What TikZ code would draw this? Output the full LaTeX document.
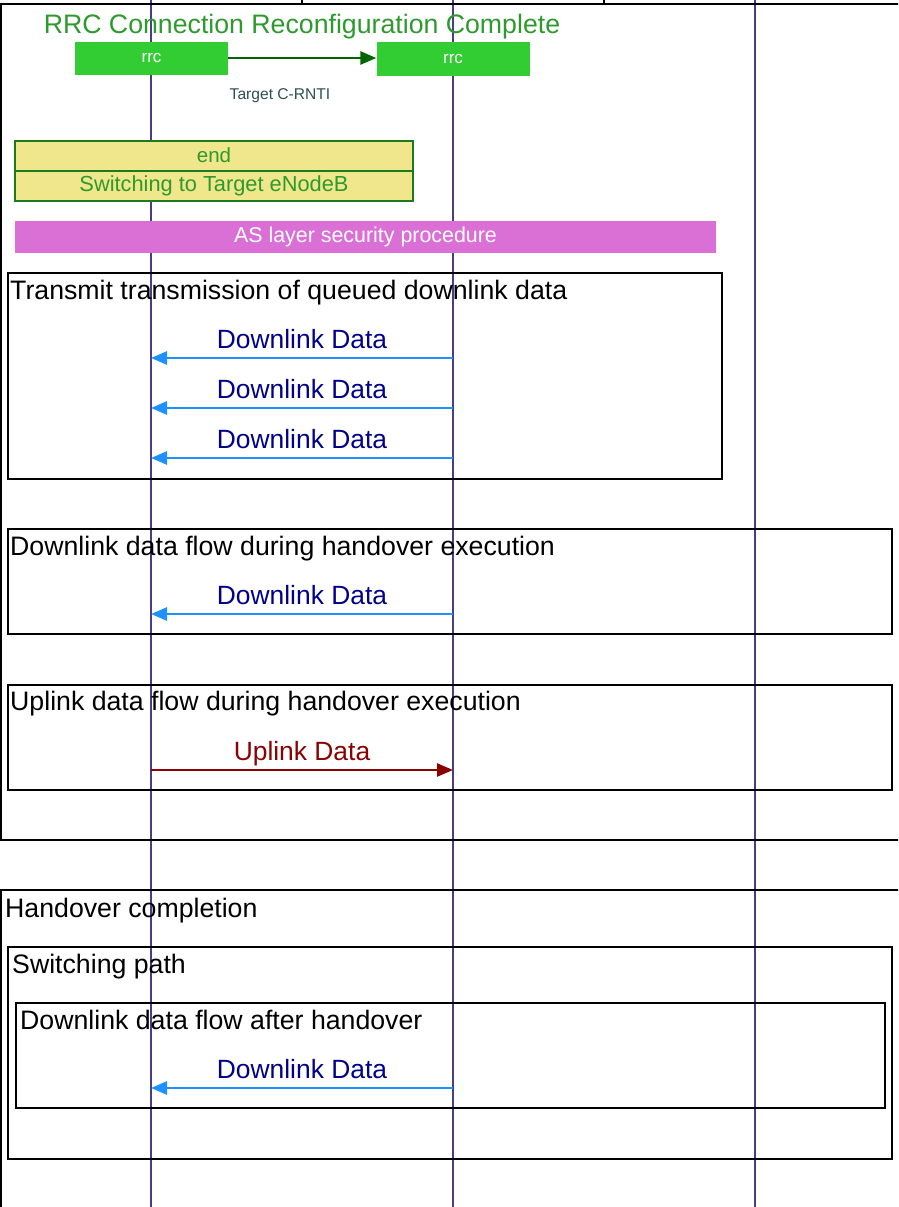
\documentclass[tikz,border=0pt]{standalone}
\usepackage{fontspec}
\setmainfont{Liberation Sans}
\usetikzlibrary{arrows.meta}
\definecolor{lifec}{HTML}{483D8B}
\definecolor{titlegreen}{HTML}{2E9A2E}
\definecolor{rrcfill}{HTML}{32CD32}
\definecolor{arrgreen}{HTML}{006400}
\definecolor{khakif}{HTML}{F0E68C}
\definecolor{khakid}{HTML}{1E7A1E}
\definecolor{orchidf}{HTML}{DA70D6}
\definecolor{dlblue}{HTML}{1E90FF}
\definecolor{navyc}{HTML}{00008B}
\definecolor{darkred}{HTML}{8B0000}
\definecolor{slatec}{HTML}{2F4F4F}
\tikzset{
  lifeline/.style={draw=lifec, line width=1.4pt},
  frame/.style={draw=black, line width=2.5pt},
  frametitle/.style={anchor=base west, inner sep=0pt, font=\fontsize{26.7}{30}\selectfont, text=black},
  dlarrow/.style={draw=dlblue, line width=2.6pt, -{Triangle[length=16pt,width=13pt]}},
  ularrow/.style={draw=darkred, line width=2.6pt, -{Triangle[length=16pt,width=13pt]}},
  dllabel/.style={anchor=base, inner sep=0pt, font=\fontsize{26.4}{30}\selectfont, text=navyc},
  ullabel/.style={anchor=base, inner sep=0pt, font=\fontsize{26.4}{30}\selectfont, text=darkred},
  rrcbox/.style={fill=rrcfill, draw=none, minimum width=153pt, minimum height=33pt, inner sep=0pt, text=white, font=\fontsize{17}{19}\selectfont},
}
\begin{document}
\begin{tikzpicture}[x=1pt,y=-1pt]
\useasboundingbox (0,0) rectangle (898,1207);
\clip (0,0) rectangle (898,1207);
% lifelines
\coordinate (LA) at (151,0); \coordinate (LAe) at (151,1207);
\coordinate (LB) at (453,0); \coordinate (LBe) at (453,1207);
\coordinate (LC) at (755,0); \coordinate (LCe) at (755,1207);
\draw[lifeline] (LA) -- (LAe);
\draw[lifeline] (LB) -- (LBe);
\draw[lifeline] (LC) -- (LCe);
% outer frames
\draw[frame] (1,4) rectangle (910,840);
\draw[frame] (302,-5) -- (302,4);
\draw[frame] (604,-5) -- (604,4);
% title
\node[anchor=base, inner sep=0pt, font=\fontsize{26.7}{30}\selectfont, text=titlegreen] (rrctitle) at (302,34) {RRC Connection Reconfiguration Complete};
\node[rrcbox] (rrcA) at (151.5,58.5) {rrc};
\node[rrcbox] (rrcB) at (453,59) {rrc};
\draw[draw=arrgreen, line width=2.6pt, -{Triangle[length=16pt,width=13pt]}] (rrcA.east |- 0,58) -- (rrcB.west |- 0,58);
\node[anchor=center, inner sep=0pt, font=\fontsize{15.6}{17}\selectfont, text=slatec] (crnti) at (280,96) {Target C-RNTI};
% yellow box
\node[draw=khakid, line width=2.4pt, fill=khakif, minimum width=398pt, minimum height=60pt, inner sep=0pt] (ybox) at (214,171) {};
\draw[draw=khakid, line width=1.2pt] (ybox.west) -- (ybox.east);
\node[anchor=center, inner sep=0pt, font=\fontsize{20.5}{24}\selectfont, text=titlegreen] (endtxt) at (214,155) {end};
\node[anchor=center, inner sep=0pt, font=\fontsize{21.8}{25}\selectfont, text=titlegreen] (swtxt) at (214,186) {Switching to Target eNodeB};
% pink
\node[fill=orchidf, draw=none, minimum width=701pt, minimum height=32pt, inner sep=0pt, text=white, font=\fontsize{21.4}{25}\selectfont] (asbox) at (365.5,237) {AS layer security procedure};
% frame 1
\draw[frame] (8,273) rectangle (722,479);
\node[frametitle] (t1) at (10,299) {Transmit transmission of queued downlink data};
\coordinate (s1) at (453,358); \coordinate (e1) at (151,358);
\coordinate (s2) at (453,408); \coordinate (e2) at (151,408);
\coordinate (s3) at (453,458); \coordinate (e3) at (151,458);
\draw[dlarrow] (s1) -- (e1);
\draw[dlarrow] (s2) -- (e2);
\draw[dlarrow] (s3) -- (e3);
\node[dllabel] (l1) at (302,348) {Downlink Data};
\node[dllabel] (l2) at (302,398) {Downlink Data};
\node[dllabel] (l3) at (302,448) {Downlink Data};
% frame 2
\draw[frame] (8,529) rectangle (892,634);
\node[frametitle] (t2) at (10,555) {Downlink data flow during handover execution};
\coordinate (s4) at (453,614); \coordinate (e4) at (151,614);
\draw[dlarrow] (s4) -- (e4);
\node[dllabel] (l4) at (302,604) {Downlink Data};
% frame 3
\draw[frame] (8,685) rectangle (892,790);
\node[frametitle] (t3) at (10,710) {Uplink data flow during handover execution};
\coordinate (s5) at (151,770); \coordinate (e5) at (453,770);
\draw[ularrow] (s5) -- (e5);
\node[ullabel] (l5) at (302,760) {Uplink Data};
% handover completion
\draw[frame] (1,890) rectangle (910,1220);
\node[frametitle] (t4) at (5,917) {Handover completion};
\draw[frame] (8,947) rectangle (892,1159);
\node[frametitle] (t5) at (12,973) {Switching path};
\draw[frame] (16,1003) rectangle (885,1108);
\node[frametitle] (t6) at (20,1029) {Downlink data flow after handover};
\coordinate (s6) at (453,1088); \coordinate (e6) at (151,1088);
\draw[dlarrow] (s6) -- (e6);
\node[dllabel] (l6) at (302,1078) {Downlink Data};
\end{tikzpicture}
\end{document}
